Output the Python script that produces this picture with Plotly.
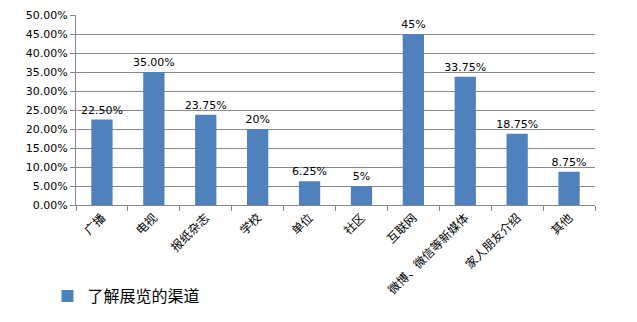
import plotly.graph_objects as go

categories = ["广播", "电视", "报纸杂志", "学校", "单位", "社区", "互联网", "微博、微信等新媒体", "家人朋友介绍", "其他"]
values = [0.225, 0.35, 0.2375, 0.20, 0.0625, 0.05, 0.45, 0.3375, 0.1875, 0.0875]
value_labels = ["22.50%", "35.00%", "23.75%", "20%", "6.25%", "5%", "45%", "33.75%", "18.75%", "8.75%"]
y_ticks = [i * 0.05 for i in range(11)]
y_tick_labels = ["%.2f%%" % (v * 100) for v in y_ticks]
series_name = "了解展览的渠道"

fig = go.Figure()
fig.add_trace(go.Bar(
    x=categories, y=values, name=series_name,
    marker=dict(color="#4F81BD", line=dict(width=0)),
    text=value_labels, textposition="outside", constraintext="none",
    textfont=dict(family="DejaVu Sans, sans-serif", size=11, color="#000000"),
    cliponaxis=False,
))

fig.update_layout(
    width=637, height=322,
    margin=dict(l=76, r=42, t=15, b=117, autoexpand=False),
    paper_bgcolor="white", plot_bgcolor="white",
    bargap=0.59,
    showlegend=True,
    legend=dict(x=-0.055, y=-0.48, xanchor="left", yanchor="middle",
                font=dict(family="Noto Sans CJK SC, sans-serif", size=16, color="#000000"),
                itemwidth=30, bgcolor="rgba(0,0,0,0)"),
    font=dict(family="DejaVu Sans, sans-serif", size=11, color="#000000"),
)
fig.update_yaxes(
    range=[0, 0.5], tickvals=y_ticks, ticktext=y_tick_labels,
    showgrid=True, gridcolor="#868686", gridwidth=1,
    showline=True, linecolor="#868686", linewidth=1,
    ticks="outside", ticklen=5, tickcolor="#868686",
    tickfont=dict(family="DejaVu Sans, sans-serif", size=11),
    zeroline=False, automargin=False,
)
fig.update_xaxes(
    tickangle=-45, showline=True, linecolor="#868686", linewidth=1,
    ticks="outside", tickson="boundaries", ticklen=5, tickcolor="#868686",
    tickfont=dict(family="Noto Sans CJK SC, sans-serif", size=12),
    showgrid=False, automargin=False,
)
fig.write_html("out.html")
